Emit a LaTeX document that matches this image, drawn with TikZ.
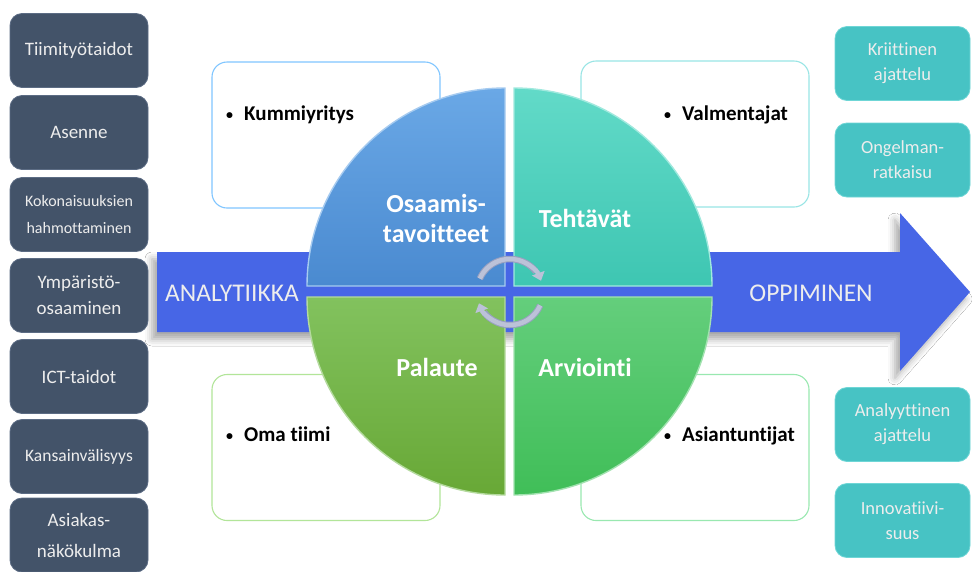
\documentclass[tikz,border=0pt]{standalone}
\usepackage{fontspec}
\setmainfont{Carlito}[Ligatures=NoCommon]
\usetikzlibrary{arrows.meta,shadows.blur,calc}

\definecolor{slate}{HTML}{435369}
\definecolor{slateedge}{HTML}{5C6C84}
\definecolor{aqua}{HTML}{47C3C4}
\definecolor{aquaedge}{HTML}{6FD6D6}
\definecolor{flow}{HTML}{4766E6}
\definecolor{softwhite}{HTML}{EDEDED}
\definecolor{cyc}{HTML}{BCC2D8}
\definecolor{cycrim}{HTML}{98A0C0}
\definecolor{qtltop}{HTML}{6AA8E6}
\definecolor{qtlbot}{HTML}{4A8AD0}
\definecolor{qtrtop}{HTML}{62DAC8}
\definecolor{qtrbot}{HTML}{3EC6B2}
\definecolor{qbltop}{HTML}{82C25E}
\definecolor{qblbot}{HTML}{68A836}
\definecolor{qbrtop}{HTML}{64CE7C}
\definecolor{qbrbot}{HTML}{40BE58}

\tikzset{
  skillbox/.style={draw=slateedge, line width=0.8pt, fill=slate, rounded corners=12pt,
    minimum width=138pt, minimum height=74pt, text=softwhite, align=center,
    inner sep=2pt, font=\fontsize{19}{26}\selectfont},
  goalbox/.style={draw=aquaedge, line width=0.8pt, fill=aqua, rounded corners=12pt,
    minimum width=135pt, minimum height=74pt, text=softwhite, align=center,
    inner sep=2pt, font=\fontsize{18.5}{25}\selectfont},
  notebox/.style={fill=white, line width=1.1pt, rounded corners=15pt,
    minimum width=228pt, minimum height=146pt, inner sep=0pt},
  bullettext/.style={anchor=west, font=\bfseries\fontsize{21}{25}\selectfont, inner sep=0pt},
  quadlabel/.style={text=white, align=center, font=\bfseries\fontsize{26}{30}\selectfont},
  flowlabel/.style={text=softwhite, font=\fontsize{25.5}{29}\selectfont},
  cycrimline/.style={draw=cycrim, line width=6.5pt},
  cycarrow/.style={draw=cyc, line width=4.5pt, -{Triangle[length=8pt,width=13pt]}},
}
\newcommand{\bul}{\makebox[18pt][l]{\raisebox{0.1ex}{\fontsize{14}{14}\selectfont•}}}

\begin{document}
\begin{tikzpicture}[x=1pt,y=-1pt]
\useasboundingbox (0,0) rectangle (972,571);
\fill[white] (0,0) rectangle (972,571);

% note boxes behind the circle
\node[notebox, draw=blue!45!cyan!50] (ntl) at (326,135) {};
\node[notebox, draw=teal!50!cyan!40] (ntr) at (695,134) {};
\node[notebox, draw=green!50!olive!40] (nbl) at (326,447.5) {};
\node[notebox, draw=green!55!teal!40] (nbr) at (695,447.5) {};

\node[bullettext] (tkum) at (226,115) {\bul Kummiyritys};
\node[bullettext] (tval) at (664,115) {\bul Valmentajat};
\node[bullettext] (toma) at (226,434) {\bul Oma tiimi};
\node[bullettext] (tasi) at (664,436) {\bul Asiantuntijat};

% the big flow arrow
\path[fill=flow, blur shadow={shadow xshift=-5pt, shadow yshift=-7pt,
      shadow blur radius=7pt, shadow opacity=35}]
  (157,252) -- (900,252) -- (900,213) -- (970,292) -- (900,371) -- (900,332)
  -- (157,332) -- cycle;
\node[flowlabel] (lan) at (232,293) {ANALYTIIKKA};
\node[flowlabel] (lop) at (811,293) {OPPIMINEN};

% four quadrants of the cycle
\coordinate (ctl) at (505,286);
\coordinate (ctr) at (514,286);
\coordinate (cbl) at (505,297);
\coordinate (cbr) at (514,297);
\shade[top color=qtltop, bottom color=qtlbot, draw=qtltop!60!white, line width=1.4pt]
  (ctl) -- ++(-198,0) arc[start angle=180, end angle=270, radius=198] -- cycle;
\shade[top color=qtrtop, bottom color=qtrbot, draw=qtrtop!60!white, line width=1.4pt]
  (ctr) -- ++(0,-198) arc[start angle=270, end angle=360, radius=198] -- cycle;
\shade[top color=qbltop, bottom color=qblbot, draw=qbltop!60!white, line width=1.4pt]
  (cbl) -- ++(0,198) arc[start angle=90, end angle=180, radius=198] -- cycle;
\shade[top color=qbrtop, bottom color=qbrbot, draw=qbrtop!60!white, line width=1.4pt]
  (cbr) -- ++(198,0) arc[start angle=0, end angle=90, radius=198] -- cycle;

\node[quadlabel] (qos) at (436,218) {Osaamis-\\tavoitteet};
\node[quadlabel] (qte) at (585,218) {Tehtävät};
\node[quadlabel] (qpa) at (437,367) {Palaute};
\node[quadlabel] (qar) at (585,367) {Arviointi};

% circular arrows in the middle: a darker rim under a light body
\coordinate (cc) at (510,292);
\draw[cycrimline] ($(cc)+(204:33)$) arc[start angle=204, end angle=322, radius=33];
\draw[cycrimline] ($(cc)+(24:33)$) arc[start angle=24, end angle=142, radius=33];
\draw[cycarrow] ($(cc)+(204:33)$) arc[start angle=204, end angle=340, radius=33];
\draw[cycarrow] ($(cc)+(24:33)$) arc[start angle=24, end angle=160, radius=33];

% skills column
\node[skillbox] (s1) at (79,50.5) {Tiimityötaidot};
\node[skillbox] (s2) at (79,132.5) {Asenne};
\node[skillbox, font=\fontsize{16}{27}\selectfont] (s3) at (79,214.5) {Kokonaisuuksien\\hahmottaminen};
\node[skillbox] (s4) at (79,295.5) {Ympäristö-\\osaaminen};
\node[skillbox] (s5) at (79,376.5) {ICT-taidot};
\node[skillbox, font=\fontsize{17.5}{26}\selectfont] (s6) at (79,456.5) {Kansainvälisyys};
\node[skillbox, font=\fontsize{19}{31}\selectfont] (s7) at (79,535) {Asiakas-\\näkökulma};

% outcomes column
\node[goalbox] (g1) at (902.5,63.5) {Kriittinen\\ajattelu};
\node[goalbox] (g2) at (902.5,160) {Ongelman-\\ratkaisu};
\node[goalbox] (g3) at (902.5,424.5) {Analyyttinen\\ajattelu};
\node[goalbox] (g4) at (902.5,520.5) {Innovatiivi-\\suus};
\end{tikzpicture}
\end{document}
